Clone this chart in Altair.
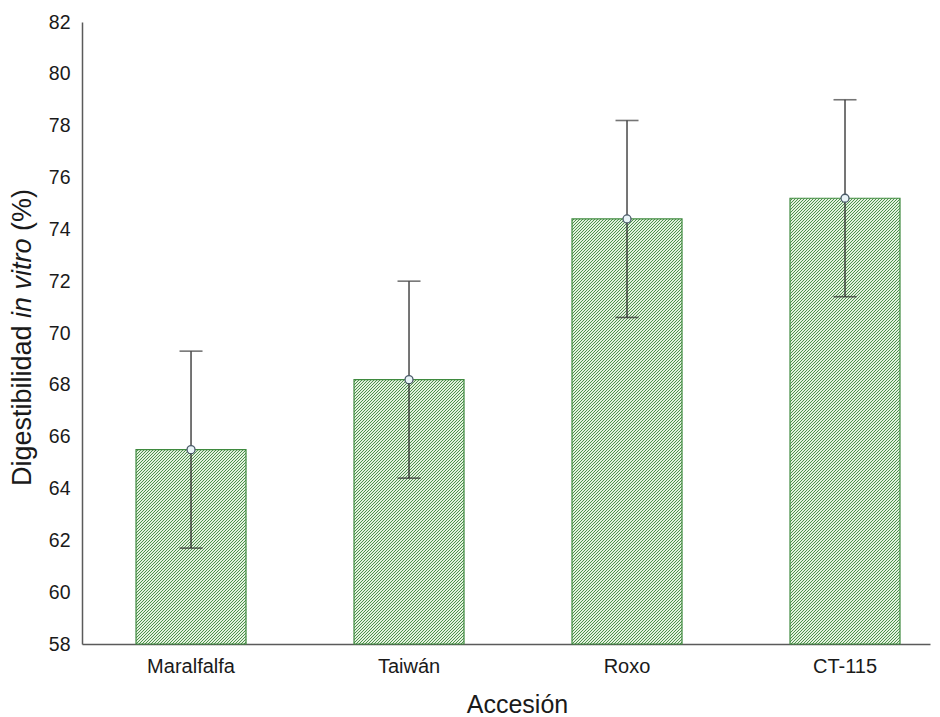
import math
import altair as alt
import pandas as pd

# ---- data ----
categories = ["Maralfalfa", "Taiwán", "Roxo", "CT-115"]
means = [65.5, 68.2, 74.4, 75.2]
upper = [69.3, 72.0, 78.2, 79.0]
lower = [61.7, 64.4, 70.6, 71.4]
y_ticks = [58, 60, 62, 64, 66, 68, 70, 72, 74, 76, 78, 80, 82]

df = pd.DataFrame({"cat": categories, "mean": means, "upper": upper, "lower": lower})

# ---- layout ----
W_PLOT, H_PLOT = 848, 622
Y_MIN, Y_MAX = 58, 82
P_IN, P_OUT, ALIGN = 0.4954, 0.1927, 0.643
FONT = "Liberation Sans"

step = W_PLOT / (len(categories) - P_IN + 2 * P_OUT)
band = step * (1 - P_IN)

LIGHT = "#e3f1de"
DARK = "#4c904c"


def hatch(w, h, hspace=3.0, dark_frac=0.4):
    period = hspace / math.sqrt(2)
    L = (w + h) / math.sqrt(2)
    n = int(math.ceil(L / period))
    lam = (1 / h + 1 / w) / (1 / h ** 2 + 1 / w ** 2)
    lam *= n * period / L
    stops = []
    for k in range(n):
        a = k / n
        b = (k + 1 - dark_frac) / n
        c = (k + 1) / n
        stops += [
            {"offset": round(a, 6), "color": LIGHT},
            {"offset": round(b, 6), "color": LIGHT},
            {"offset": round(b, 6), "color": DARK},
            {"offset": round(c, 6), "color": DARK},
        ]
    return {"gradient": "linear", "x1": 0, "y1": 0,
            "x2": round(lam / h, 7), "y2": round(lam / w, 7), "stops": stops}


xscale = alt.Scale(domain=categories, paddingInner=P_IN, paddingOuter=P_OUT, align=ALIGN)
yscale = alt.Scale(domain=[Y_MIN, Y_MAX], nice=False, zero=False)

x_enc = alt.X("cat:N", scale=xscale, sort=categories,
              axis=alt.Axis(title="Accesión", labelAngle=0, ticks=False,
                            labelFontSize=20, labelFont=FONT, labelColor="#1a1a1a",
                            labelPadding=12, domainColor="#5a5a5a", domainWidth=1.5,
                            titleFont=FONT, titleFontSize=25, titleFontWeight="normal",
                            titleColor="#1a1a1a", titleX=435, titleY=68,
                            titleAlign="center", titleBaseline="alphabetic"))
y_axis = alt.Axis(title=None, values=y_ticks, ticks=False, grid=False,
                  labelFontSize=19.5, labelFont=FONT, labelColor="#1a1a1a",
                  labelPadding=12, domainColor="#5a5a5a", domainWidth=1.5)

base = alt.Chart(df)

layers = []
for i, c in enumerate(categories):
    h = (means[i] - Y_MIN) / (Y_MAX - Y_MIN) * H_PLOT
    bar = base.transform_filter(alt.datum.cat == c).mark_bar(
        fill=hatch(band, h), stroke="#3f8a3f", strokeWidth=1.2
    ).encode(
        x=x_enc,
        y=alt.Y("mean:Q", scale=yscale, axis=y_axis),
        y2=alt.datum(Y_MIN),
    )
    layers.append(bar)

rule = base.mark_rule(color="#2b2b2b", strokeWidth=1.3).encode(
    x=alt.X("cat:N", scale=xscale, sort=categories),
    y=alt.Y("lower:Q", scale=yscale),
    y2="upper:Q",
)
cap_up = base.mark_tick(color="#3a3a3a", size=23, thickness=1.6).encode(
    x=alt.X("cat:N", scale=xscale, sort=categories),
    y=alt.Y("upper:Q", scale=yscale),
)
cap_lo = base.mark_tick(color="#2b2b2b", size=23, thickness=1.6).encode(
    x=alt.X("cat:N", scale=xscale, sort=categories),
    y=alt.Y("lower:Q", scale=yscale),
)
pts = base.mark_point(shape="circle", filled=True, fill="#eaf4f8", stroke="#4a5a68",
                      strokeWidth=1.3, size=64, opacity=1).encode(
    x=alt.X("cat:N", scale=xscale, sort=categories),
    y=alt.Y("mean:Q", scale=yscale),
)

# ---- y title with italic part ----
TITLE_SIZE = 27
title_parts = ["Digestibilidad", "in vitro", "(%)"]
title_styles = ["normal", "italic", "normal"]
adv = {"D": 722, "i": 222, "g": 556, "e": 556, "s": 500, "t": 278, "b": 556, "l": 222,
       "d": 556, "a": 556, "n": 556, "v": 500, "r": 333, "o": 556, " ": 278,
       "(": 333, "%": 889, ")": 333}


def text_w(s):
    return sum(adv[ch] for ch in s) / 1000 * TITLE_SIZE


space = adv[" "] / 1000 * TITLE_SIZE
y_start = 464.0
title_layers = []
pos = y_start
for part, style in zip(title_parts, title_styles):
    t = alt.Chart(pd.DataFrame({"t": [part]})).mark_text(
        angle=270, align="left", baseline="alphabetic", font=FONT,
        fontSize=TITLE_SIZE, fontStyle=style, color="#1a1a1a"
    ).encode(x=alt.value(-51), y=alt.value(pos), text="t:N")
    title_layers.append(t)
    pos -= text_w(part) + space

chart = alt.layer(*layers, rule, cap_up, cap_lo, pts, *title_layers).properties(
    width=W_PLOT, height=H_PLOT,
    autosize=alt.AutoSizeParams(type="none"),
    padding={"left": 74, "top": 14, "right": 2, "bottom": 73},
    background="white",
).configure_view(stroke=None)

chart.save("out.html", embed_options={"renderer": "svg", "actions": False})
